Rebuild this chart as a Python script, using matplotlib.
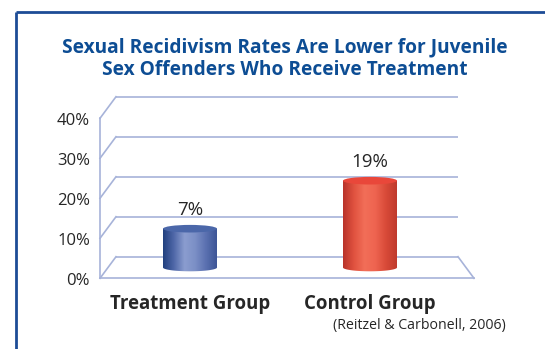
import numpy as np
import matplotlib
matplotlib.use("Agg")
import matplotlib.pyplot as plt
from matplotlib.patches import Ellipse, PathPatch
from matplotlib.path import Path
from matplotlib.colors import LinearSegmentedColormap

# ---- data ----
categories = ["Treatment Group", "Control Group"]
rates = [7, 19]                      # percent
value_labels = ["7%", "19%"]
tick_values = [0, 10, 20, 30, 40]
tick_labels = ["0%", "10%", "20%", "30%", "40%"]
title = "Sexual Recidivism Rates Are Lower for Juvenile\nSex Offenders Who Receive Treatment"
source = "(Reitzel & Carbonell, 2006)"

W, H = 545, 349
fig = plt.figure(figsize=(W / 100, H / 100), dpi=100)
fig.patch.set_facecolor("white")

# axes spanning the figure; x in category units (180 px each), y in percent (4 px each)
ax = fig.add_axes([0, 0, 1, 1])
X0, SX = 190.0, 180.0
Y0, SY = 256.7, 4.0
ax.set_xlim(-X0 / SX, (W - X0) / SX)
ax.set_ylim((Y0 - H) / SY, Y0 / SY)
ax.axis("off")

grid_c = "#a7b3d9"
text_c = "#262626"
title_c = "#0d4d94"

# 3-D box geometry (back wall / front floor edge)
back_l, back_r = (116 - X0) / SX, (458 - X0) / SX
shift = 16 / SX
depth = 21.6 / SY

# back wall gridlines and left side wall
for v in tick_values:
    ax.plot([back_l, back_r], [v, v], color=grid_c, lw=1.2, solid_capstyle="butt")
    ax.plot([back_l - shift, back_l], [v - depth, v], color=grid_c, lw=1.2)
ax.plot([back_l - shift, back_l - shift], [-depth, tick_values[-1] - depth], color=grid_c, lw=1.2)
# floor front edge and right side of floor
ax.plot([back_l - shift, back_r + shift], [-depth, -depth], color=grid_c, lw=1.2)
ax.plot([back_r, back_r + shift], [0, -depth], color=grid_c, lw=1.2)

for v, lab in zip(tick_values, tick_labels):
    ax.text((90 - X0) / SX, v - depth - 0.6, lab, ha="right", va="center",
            fontsize=12, color=text_c, family="Open Sans")

# cylinders
body_colors = [
    ["#21407e", "#4f67a8", "#8b9dcf", "#7b8fc6", "#5a70b0", "#3d5596"],
    ["#b8322a", "#e0523f", "#f26e58", "#ee6450", "#d84a38", "#bf3a2d"],
]
top_colors = ["#4b67a9", "#e9473a"]
half_w = 27 / SX
ell_h = 7.6 / SY
base = -depth / 2

for i, (val, lab) in enumerate(zip(rates, value_labels)):
    xc = i
    xl, xr = xc - half_w, xc + half_w
    t = np.linspace(np.pi, 2 * np.pi, 40)
    arc = np.column_stack([xc + half_w * np.cos(t), base + ell_h / 2 * np.sin(t)])
    verts = np.vstack([[[xl, val]], arc, [[xr, val]], [[xl, val]]])
    codes = [Path.MOVETO] + [Path.LINETO] * (len(verts) - 2) + [Path.CLOSEPOLY]
    body = PathPatch(Path(verts, codes), facecolor="none", edgecolor="none")
    ax.add_patch(body)
    cmap = LinearSegmentedColormap.from_list("cyl%d" % i, body_colors[i])
    grad = np.linspace(0, 1, 256).reshape(1, -1)
    im = ax.imshow(grad, cmap=cmap, aspect="auto", interpolation="bilinear",
                   extent=(xl, xr, base - ell_h, val), zorder=3)
    im.set_clip_path(body)
    ax.add_patch(Ellipse((xc, val), 2 * half_w, ell_h, facecolor=top_colors[i],
                         edgecolor="none", zorder=4))
    ax.text(xc, val + 4.6, lab, ha="center", va="center", fontsize=13.5,
            color=text_c, family="Open Sans")
    ax.text(xc, (Y0 - 303.5) / SY, categories[i], ha="center", va="center",
            fontsize=13.4, fontweight="bold", color=text_c, family="Open Sans")

ax.text((506 - X0) / SX, (Y0 - 326) / SY, source, ha="right", va="center",
        fontsize=10.2, color=text_c, family="Open Sans")

fig.text(285 / W, 1 - 59 / H, title, ha="center", va="center", fontsize=13.8,
         fontweight="bold", color=title_c, family="Open Sans", linespacing=1.18)

# frame around the panel (open to the right and bottom)
ax.plot([(15.5 - X0) / SX, (15.5 - X0) / SX], [(Y0 - H - 5) / SY, (Y0 - 12) / SY],
        color="#1d4c96", lw=2, solid_capstyle="butt", clip_on=False)
ax.plot([(15.5 - X0) / SX, (W + 5 - X0) / SX], [(Y0 - 12) / SY, (Y0 - 12) / SY],
        color="#1d4c96", lw=2, solid_capstyle="butt", clip_on=False)

fig.savefig("out.png", dpi=100)
